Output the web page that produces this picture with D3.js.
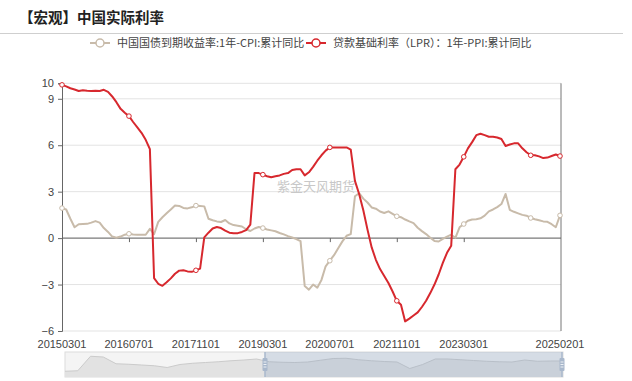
<!DOCTYPE html>
<html><head><meta charset="utf-8">
<script src="https://cdn.jsdelivr.net/npm/d3@7/dist/d3.min.js"></script>
<style>
html,body{margin:0;padding:0;background:#fff;}
svg{display:block;font-family:"Noto Sans CJK SC","Noto Sans",sans-serif;}
.num{font-family:"Liberation Sans",Arial,sans-serif;}
</style></head>
<body><svg id="chart" width="632" height="381"></svg>
<script>
const titleText = "【宏观】中国实际利率";
const seriesNames = ["中国国债到期收益率:1年-CPI:累计同比", "贷款基础利率（LPR）：1年-PPI:累计同比"];
const startYear = 2015, startMonth = 3, monthCount = 120;
const categories = [];
for (let k = 0; k < monthCount; k++) {
  const m = startMonth - 1 + k;
  const y = startYear + Math.floor(m / 12), mm = (m % 12) + 1;
  categories.push(String(y) + String(mm).padStart(2, "0") + "01");
}
const xTickLabels = ["20150301","20160701","20171101","20190301","20200701","20211101","20230301","20250201"];
const yTicks = [-6, -3, 0, 3, 6, 9, 10];

const grayValues = [
  1.94, 1.85, 1.25, 0.70, 0.90, 0.91, 0.92, 1.00, 1.10, 1.00, 0.65, 0.40,
  0.10, 0.02, 0.10, 0.22, 0.28, 0.24, 0.22, 0.22, 0.22, 0.60, 0.25, 1.05,
  1.35, 1.60, 1.85, 2.10, 2.08, 1.95, 1.92, 1.99, 2.10, 2.08, 2.05, 1.25,
  1.15, 1.08, 1.04, 1.17, 0.95, 0.84, 0.80, 0.75, 0.57, 0.46, 0.62, 0.72,
  0.65, 0.56, 0.50, 0.44, 0.33, 0.24, 0.13, 0.04, -0.06, -0.20, -3.10, -3.33,
  -3.00, -3.20, -2.70, -1.82, -1.46, -1.10, -0.65, -0.21, 0.15, 0.26, 2.70, 2.90,
  2.55, 2.30, 1.98, 1.90, 1.72, 1.62, 1.73, 1.57, 1.41, 1.35, 1.20, 1.08,
  0.97, 0.67, 0.45, 0.26, 0.02, -0.18, -0.22, -0.05, 0.10, 0.22, 0.02, 0.70,
  0.91, 1.12, 1.20, 1.22, 1.28, 1.45, 1.73, 1.85, 2.00, 2.20, 2.85, 1.83,
  1.70, 1.60, 1.50, 1.45, 1.30, 1.22, 1.15, 1.08, 1.05, 0.90, 0.70, 1.47
];
const redValues = [
  9.90, 9.80, 9.68, 9.60, 9.50, 9.55, 9.52, 9.50, 9.52, 9.50, 9.58, 9.45,
  9.15, 8.78, 8.35, 8.10, 7.88, 7.50, 7.15, 6.80, 6.35, 5.75, -2.58, -2.95,
  -3.08, -2.85, -2.60, -2.30, -2.10, -2.08, -2.15, -2.18, -2.08, -1.97, 0.05, 0.35,
  0.62, 0.72, 0.65, 0.48, 0.35, 0.32, 0.32, 0.40, 0.52, 0.87, 4.20, 4.20,
  4.10, 4.00, 3.93, 4.00, 4.05, 4.15, 4.20, 4.40, 4.45, 4.45, 4.05, 4.25,
  4.60, 5.00, 5.35, 5.65, 5.86, 5.86, 5.86, 5.86, 5.86, 5.72, 3.70, 2.85,
  1.80, 0.55, -0.60, -1.40, -2.00, -2.45, -2.90, -3.45, -4.05, -4.30, -5.38, -5.20,
  -5.00, -4.80, -4.45, -4.05, -3.55, -3.00, -2.35, -1.60, -0.95, -0.50, 4.45, 4.75,
  5.25, 5.80, 6.20, 6.65, 6.74, 6.65, 6.55, 6.55, 6.50, 6.40, 5.95, 6.05,
  6.12, 6.12, 5.80, 5.55, 5.35, 5.35, 5.28, 5.17, 5.20, 5.30, 5.40, 5.30
];
// slider data-shadow profile (relative heights)
const shadowValues = [0.23,0.25,0.83,0.80,0.53,0.51,0.48,0.45,0.38,0.50,0.55,0.58,0.61,0.65,0.68,0.72,0.61,0.59,0.58,0.60,
  0.67,0.74,0.75,0.69,0.65,0.62,0.60,0.34,0.50,0.72,0.72,0.69,0.66,0.63,0.61,0.60,0.68,0.63,0.64,0.64];
const watermark = "紫金天风期货";

const colors = {gray: "#c8bbaa", red: "#d7282e"};
const svg = d3.select("#chart");
const L = 62, R = 560, T = 83.3, B = 331;

const x = d3.scalePoint().domain(categories).range([L, R]);
const y = d3.scaleLinear().domain([-6, 10]).range([B, T]);

// title
svg.append("text").attr("x", 19).attr("y", 23).attr("font-size", 14.5).attr("font-weight", "bold")
  .attr("fill", "#222").text(titleText);
svg.append("line").attr("x1", 0).attr("x2", 623).attr("y1", 33.5).attr("y2", 33.5)
  .attr("stroke", "#cfcfcf").attr("stroke-width", 1);

// legend
const legendItems = [
  {name: seriesNames[0], color: colors.gray, x: 90},
  {name: seriesNames[1], color: colors.red, x: 306}
];
legendItems.forEach(it => {
  const g = svg.append("g").attr("transform", `translate(${it.x},43)`);
  g.append("line").attr("x1", 0).attr("x2", 20).attr("y1", 0).attr("y2", 0).attr("stroke", it.color).attr("stroke-width", 2);
  g.append("circle").attr("cx", 10).attr("cy", 0).attr("r", 4).attr("fill", "#fff").attr("stroke", it.color).attr("stroke-width", 1.5);
  g.append("text").attr("x", 27).attr("y", 0).attr("dy", "0.35em").attr("font-size", 11).attr("fill", "#444").text(it.name);
});

// grid
svg.append("g").selectAll("line").data(yTicks).join("line")
  .attr("x1", L).attr("x2", R + 1).attr("y1", d => y(d)).attr("y2", d => y(d))
  .attr("stroke", "#e3e3e3").attr("stroke-width", 1);

// y axis
const yAxis = d3.axisLeft(y).tickValues(yTicks).tickSize(4).tickPadding(4).tickFormat(d3.format("d"));
const gy = svg.append("g").attr("transform", `translate(${L},0)`).call(yAxis);
gy.select(".domain").attr("stroke", "#666");
gy.selectAll(".tick line").attr("stroke", "#666");
gy.selectAll(".tick text").attr("class", "num").attr("font-size", 11).attr("fill", "#444")
  .attr("font-family", "'Liberation Sans',Arial,sans-serif");

// right border axis
svg.append("line").attr("x1", R + 1).attr("x2", R + 1).attr("y1", T).attr("y2", B).attr("stroke", "#777").attr("stroke-width", 1);

// x axis at zero
const xAxis = d3.axisBottom(x).tickValues(xTickLabels.filter(l => l !== categories[0] && l !== categories[categories.length-1])).tickSize(4).tickFormat("");
const gx = svg.append("g").attr("transform", `translate(0,${y(0)})`).call(xAxis);
gx.select(".domain").attr("stroke", "#666").attr("d", `M${L},0H${R + 1}`);
gx.selectAll(".tick line").attr("stroke", "#666");

// x labels at bottom
svg.append("g").selectAll("text").data(xTickLabels).join("text")
  .attr("class", "num").attr("font-family", "'Liberation Sans',Arial,sans-serif")
  .attr("x", d => x(d)).attr("y", 344).attr("dy", "0.35em").attr("text-anchor", "middle")
  .attr("font-size", 11).attr("fill", "#444").text(d => d);

// watermark
svg.append("text").attr("x", 316).attr("y", 186).attr("dy", "0.35em").attr("text-anchor", "middle")
  .attr("font-size", 13).attr("fill", "#c8c8c8").text(watermark);

// lines
const line = d3.line().x((d, i) => x(categories[i])).y(d => y(d));
const series = [{vals: grayValues, color: colors.gray}, {vals: redValues, color: colors.red}];
series.forEach(s => {
  svg.append("path").datum(s.vals).attr("d", line).attr("fill", "none")
    .attr("stroke", s.color).attr("stroke-width", 2).attr("stroke-linejoin", "round");
});
series.forEach(s => {
  const pts = s.vals.map((v, i) => ({v, i})).filter(p => p.i % 16 === 0 || p.i === s.vals.length - 1);
  svg.append("g").selectAll("circle").data(pts).join("circle")
    .attr("cx", p => x(categories[p.i])).attr("cy", p => y(p.v)).attr("r", 2.3)
    .attr("fill", "#fff").attr("stroke", s.color).attr("stroke-width", 1);
});

// data zoom slider
const SL = 65, SR = 563, ST = 352, SB = 377;
const sx = d3.scaleLinear().domain([0, shadowValues.length - 1]).range([SL, SR]);
const sy = d3.scaleLinear().domain([0, 1]).range([SB, ST]);
svg.append("rect").attr("x", SL).attr("y", ST).attr("width", SR - SL).attr("height", SB - ST)
  .attr("fill", "#f4f4f4").attr("stroke", "#dcdcdc");
const area = d3.area().x((d, i) => sx(i)).y0(SB).y1(d => sy(d));
svg.append("path").datum(shadowValues).attr("d", area).attr("fill", "#e2e2e2");
svg.append("path").datum(shadowValues).attr("d", d3.line().x((d, i) => sx(i)).y(d => sy(d)))
  .attr("fill", "none").attr("stroke", "#cbcbcb").attr("stroke-width", 1);
const selL = 265, selR = 562;
svg.append("rect").attr("x", selL).attr("y", ST).attr("width", selR - selL).attr("height", SB - ST)
  .attr("fill", "#8fa5c4").attr("fill-opacity", 0.3);
[selL, selR].forEach(hx => {
  svg.append("line").attr("x1", hx).attr("x2", hx).attr("y1", ST).attr("y2", SB).attr("stroke", "#a9b8cc").attr("stroke-width", 1.5);
  svg.append("rect").attr("x", hx - 2.5).attr("y", ST + 6).attr("width", 5).attr("height", 13).attr("rx", 1)
    .attr("fill", "#a9b8cc");
  [0, 1, 2].forEach(k => svg.append("line").attr("x1", hx - 1.5).attr("x2", hx + 1.5)
    .attr("y1", ST + 10 + k * 2.5).attr("y2", ST + 10 + k * 2.5).attr("stroke", "#fff").attr("stroke-width", 0.8));
});
</script></body></html>
